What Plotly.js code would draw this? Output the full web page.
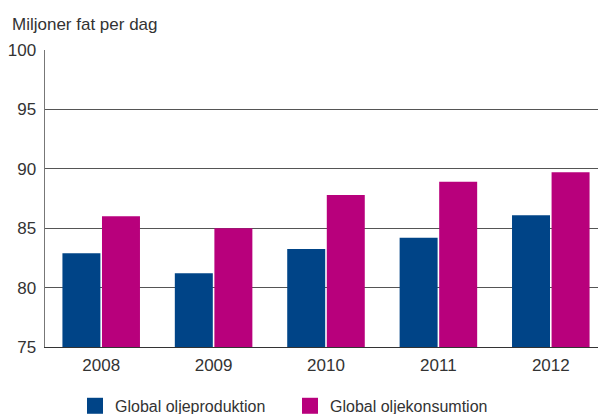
<!DOCTYPE html>
<html><head><meta charset="utf-8">
<script src="https://cdn.plot.ly/plotly-3.0.1.min.js"></script>
<style>html,body{margin:0;padding:0;background:#fff}#c{width:598px;height:414px}</style>
</head><body><div id="c"></div>
<script>
const years = ['2008','2009','2010','2011','2012'];
const produktion = [82.9, 81.2, 83.25, 84.2, 86.1];
const konsumtion = [86.0, 85.0, 87.8, 88.9, 89.7];
const seriesNames = ['Global oljeproduktion', 'Global oljekonsumtion'];
const seriesColors = ['#004487', '#B8007C'];
const yTitle = 'Miljoner fat per dag';

const font = {family: 'Liberation Sans, Arial, sans-serif', color: '#333', size: 17};
const data = [
  {type:'bar', x: years, y: produktion, name: seriesNames[0], marker:{color:seriesColors[0]}, showlegend:false},
  {type:'bar', x: years, y: konsumtion, name: seriesNames[1], marker:{color:seriesColors[1]}, showlegend:false},
  // legend entries (large square swatches)
  {type:'scatter', mode:'markers', x:[null], y:[null], name: seriesNames[0], marker:{symbol:'square', size:16, color:seriesColors[0]}, showlegend:true},
  {type:'scatter', mode:'markers', x:[null], y:[null], name: seriesNames[1], marker:{symbol:'square', size:16, color:seriesColors[1]}, showlegend:true}
];
const layout = {
  width: 598, height: 414,
  margin: {l:45, r:0, t:50, b:67, autoexpand:false},
  font: font,
  paper_bgcolor:'#fff', plot_bgcolor:'#fff',
  barmode:'group', bargap:0.296, bargroupgap:0.04,
  xaxis: {type:'category', range:[-0.5, 4.42], showgrid:false, ticks:'', showline:true, linecolor:'#333', linewidth:1, tickfont:{size:17, color:'#333'}, ticklabelstandoff:3, fixedrange:true},
  yaxis: {range:[75,100], dtick:5, showgrid:true, gridcolor:'#555', gridwidth:1, showline:true, linecolor:'#777', linewidth:1.5, ticks:'', tickfont:{size:17, color:'#333'}, zeroline:false, ticklabelstandoff: 4},
  showlegend: true,
  legend: {orientation:'h', x:(75-45)/553, xanchor:'left', y:-0.141, yanchor:'top', font:{size:16, color:'#333'}, entrywidth:170, entrywidthmode:'pixels', itemsizing:'trace', bgcolor:'rgba(0,0,0,0)'},
  annotations: [{text: yTitle, xref:'paper', yref:'paper', x:-0.063, y:1.125, xanchor:'left', yanchor:'top', showarrow:false, font:{size:17, color:'#333'}}]
};
Plotly.newPlot('c', data, layout, {displayModeBar:false, staticPlot:true});
</script></body></html>
